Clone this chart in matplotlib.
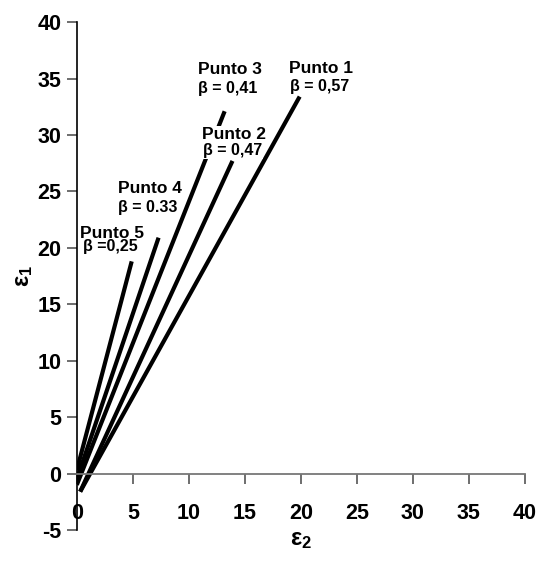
import matplotlib
matplotlib.use("Agg")
import matplotlib.pyplot as plt

# Data
points = ["Punto 1", "Punto 2", "Punto 3", "Punto 4", "Punto 5"]
betas = ["β = 0,57", "β = 0,47", "β = 0,41", "β = 0.33", "β =0,25"]
x_start = [0.3, 0.3, 0.0, 0.0, 0.0]
y_start = [-1.6, -1.6, -1.0, -0.5, 0.3]
x_end = [19.9, 13.9, 13.2, 7.3, 4.9]
y_end = [33.4, 27.7, 32.1, 20.9, 18.8]
label_x = [21.8, 14.0, 13.7, 6.5, 3.1]
label_y = [35.9, 30.05, 35.8, 25.3, 21.3]
beta_x = [21.7, 13.9, 13.5, 6.3, 3.0]
beta_y = [34.3, 28.6, 34.1, 23.6, 20.1]
xticks = [0, 5, 10, 15, 20, 25, 30, 35, 40]
yticks = [-5, 0, 5, 10, 15, 20, 25, 30, 35, 40]

plt.rcParams['font.family'] = ['Liberation Sans', 'DejaVu Sans']
plt.rcParams['font.weight'] = 'bold'
plt.rcParams['axes.unicode_minus'] = False
plt.rcParams['mathtext.fontset'] = 'custom'
plt.rcParams['mathtext.rm'] = 'Liberation Sans:bold'
plt.rcParams['mathtext.it'] = 'Liberation Sans:bold'
plt.rcParams['mathtext.bf'] = 'Liberation Sans:bold'

fig = plt.figure(figsize=(5.41, 5.72), dpi=100)
ax = fig.add_axes([0.142, 0.0734, 0.828, 0.888])

for xs, ys, xe, ye in zip(x_start, y_start, x_end, y_end):
    ax.plot([xs, xe], [ys, ye], color='black', lw=3, solid_capstyle='butt', zorder=2)

for p, b, lx, ly, bx, by in zip(points, betas, label_x, label_y, beta_x, beta_y):
    ax.text(lx, ly, p, ha='center', va='center', fontsize=12.5, fontweight='bold',
            bbox=dict(facecolor='white', edgecolor='none', pad=0.5), zorder=3)
    ax.text(bx, by, b, ha='center', va='center', fontsize=11.5, fontweight='bold',
            bbox=dict(facecolor='white', edgecolor='none', pad=0.5), zorder=3)

ax.set_xlim(0, 40)
ax.set_ylim(-5, 40)
ax.spines['top'].set_visible(False)
ax.spines['right'].set_visible(False)
ax.spines['bottom'].set_position(('data', 0))
ax.spines['bottom'].set_color('#777777')
ax.spines['bottom'].set_linewidth(1.3)
ax.spines['left'].set_color('black')
ax.spines['left'].set_linewidth(1.2)
ax.set_xticks(xticks)
ax.set_yticks(yticks)
ax.tick_params(axis='x', direction='out', length=7, width=1.2, color='#555555',
               labelsize=15.5, pad=14)
ax.tick_params(axis='y', direction='out', length=7, width=1.2, color='#555555',
               labelsize=15.5, pad=4)
for lab in ax.get_xticklabels() + ax.get_yticklabels():
    lab.set_fontweight('bold')

ax.set_xlabel(r'$ε_2$', fontsize=17, labelpad=4)
ax.set_ylabel(r'$ε_1$', fontsize=17, labelpad=2)

fig.savefig('out.png', dpi=100)
